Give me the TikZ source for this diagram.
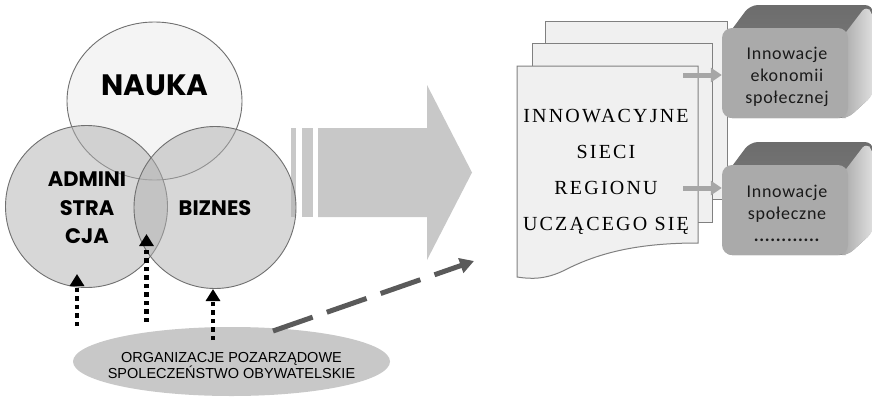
\documentclass[tikz,border=0pt]{standalone}
\usepackage{fontspec}
\usetikzlibrary{arrows.meta,shapes.geometric}
\newfontfamily\gothic{Poppins}
\newfontfamily\sansf{Liberation Sans}
\newfontfamily\serifd{Liberation Serif}[LetterSpace=11]
\newfontfamily\calib{Carlito}[LetterSpace=4]
\definecolor{bigarrow}{HTML}{C8C8C8}
\definecolor{venline}{HTML}{707070}
\definecolor{naukafill}{HTML}{F4F4F4}
\definecolor{lowfill}{HTML}{B0B0B0}
\definecolor{orgfill}{HTML}{C8C8C8}
\definecolor{dashcol}{HTML}{5A5A5A}
\definecolor{pagefill}{HTML}{F0F0F0}
\definecolor{pageline}{HTML}{808080}
\definecolor{smallarrow}{HTML}{A6A6A6}
\definecolor{frontface}{HTML}{AAAAAA}
\definecolor{boxtext}{HTML}{1A1A1A}
\tikzset{
  venn/.style={draw=venline, line width=0.9pt},
  dotarrow/.style={black, line width=4.5pt, dash pattern=on 4.5pt off 4pt, -{Triangle[length=12pt,width=14pt]}},
  page/.style={fill=pagefill, draw=pageline, line width=1pt},
  smallarr/.style={smallarrow, line width=5pt, -{Triangle[length=11pt,width=14pt]}},
  boxtxt/.style={font=\calib\fontsize{18}{22}\selectfont, text=boxtext, align=center},
  venntxt/.style={font=\gothic\bfseries\fontsize{21}{28.5}\selectfont, align=center},
}
\begin{document}
\begin{tikzpicture}[x=1pt,y=-1pt]
\useasboundingbox (0,0) rectangle (872,399);
\fill[white] (0,0) rectangle (872,399);
% big arrow
\fill[bigarrow] (318,128) -- (427,128) -- (427,85) -- (472,172.5) -- (427,260) -- (427,217) -- (318,217) -- cycle;
\fill[bigarrow] (291,128) rectangle (296,217);
\fill[bigarrow] (302,128) rectangle (313,217);
% venn
\node[ellipse, venn, fill=naukafill, minimum width=175pt, minimum height=158pt, inner sep=0pt] (nauka) at (154.5,101) {};
\node[circle, venn, fill=lowfill, fill opacity=0.5, minimum size=162pt, inner sep=0pt] (admin) at (86.5,206.5) {};
\node[circle, venn, fill=lowfill, fill opacity=0.5, minimum size=162pt, inner sep=0pt] (biznes) at (215,207.5) {};
\node[font=\gothic\bfseries\fontsize{29.5}{30}\selectfont] (naukat) at (155,85) {NAUKA};
\node[venntxt] (admint) at (87,208) {ADMINI\\STRA\\CJA};
\node[venntxt] (biznest) at (215,208) {BIZNES};
% organisations
\node[ellipse, fill=orgfill, minimum width=317pt, minimum height=69pt, inner sep=0pt] (org) at (231.5,361.5) {};
\node[font=\sansf\fontsize{14.5}{13}\selectfont, align=center] (orgt) at (231.5,365.5) {ORGANIZACJE POZARZĄDOWE\\SPOLECZEŃSTWO OBYWATELSKIE};
% dotted arrows
\coordinate (a1s) at (77,326); \coordinate (a1e) at (77,274);
\coordinate (a2s) at (146.5,322); \coordinate (a2e) at (146.5,234);
\coordinate (a3s) at (213,340); \coordinate (a3e) at (213,289);
\draw[dotarrow] (a1s) -- (a1e);
\draw[dotarrow] (a2s) -- (a2e);
\draw[dotarrow] (a3s) -- (a3e);
% dashed arrow
\coordinate (dse) at (474,261);
\draw[dashcol, line width=5pt, dash pattern=on 42pt off 15pt, -{Triangle[length=14pt,width=15pt]}] (273,331) -- (dse);
% pages
\draw[page] (545,21) rectangle (727,199);
\draw[page] (532,43) rectangle (712,222);
\draw[page] (517,66) -- (698,66) -- (698,243) .. controls (640,243) and (600,252) .. (565,270) .. controls (545,280) and (530,279) .. (517,277) -- cycle;
\node[font=\serifd\fontsize{20}{36}\selectfont, align=center] (doct) at (606,172) {INNOWACYJNE\\SIECI\\REGIONU\\UCZĄCEGO SIĘ};
% boxes
\foreach \yy/\nm in {0/b1,137/b2}{
  \begin{scope}[yshift=-\yy pt]
  \shade[top color=gray!85!black, bottom color=gray!95!white, rounded corners=8pt] (724,40) -- (750,5) -- (873,5) -- (873,95) -- (848,118) -- (724,118) -- cycle;
  \shade[left color=gray!70!white, right color=gray!25!white, rounded corners=6pt] (840,40) -- (866,6) -- (873,14) -- (873,95) -- (848,118) -- (840,118) -- cycle;
  \end{scope}
}
\node[fill=frontface, rounded corners=10pt, minimum width=126pt, minimum height=90pt, inner sep=0pt] (box1) at (785,73) {};
\node[fill=frontface, rounded corners=10pt, minimum width=126pt, minimum height=90pt, inner sep=0pt] (box2) at (785,210) {};
\node[boxtxt] (box1t) at (787,76.5) {Innowacje\\ekonomii\\społecznej};
\node[boxtxt] (box2t) at (787,213) {Innowacje\\społeczne\\\textbf{............}};
% small arrows
\coordinate (s1) at (683,75); \coordinate (s2) at (683,188);
\draw[smallarr] (s1) -- (box1.west |- s1);
\draw[smallarr] (s2) -- (box2.west |- s2);
\end{tikzpicture}
\end{document}
